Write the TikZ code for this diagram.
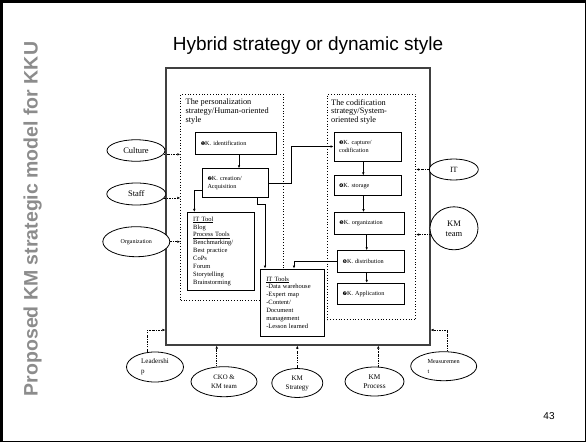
\documentclass[tikz,border=0pt]{standalone}
\usepackage{fontspec}
\setmainfont{Liberation Serif}
\newfontfamily\slidefont{Liberation Sans}
\newfontfamily\dingfont{DejaVu Sans}
\usetikzlibrary{positioning,calc,arrows.meta,shapes.geometric}
\definecolor{sidegray}{RGB}{140,140,140}
\newcommand{\kno}[1]{{\dingfont\fontsize{5}{6}\selectfont #1}}
\tikzstyle{modelbox} = [ draw=black!75, line width=1.1pt, inner sep=0pt ]
\tikzstyle{strategy} = [ draw, dotted, line width=0.8pt, inner sep=0pt ]
\tikzstyle{stratitle} = [ anchor=north west, inner sep=0pt, align=left, font=\fontsize{8.3}{8.7}\selectfont ]
\tikzstyle{kstep} = [ draw, line width=0.9pt, fill=white, align=left, inner xsep=5pt, inner ysep=0pt, font=\fontsize{6.2}{7.4}\selectfont ]
\tikzstyle{toolbox} = [ kstep, font=\fontsize{6.5}{7.9}\selectfont ]
\tikzstyle{factor} = [ draw, ellipse, line width=0.8pt, fill=white, inner sep=0pt, align=center ]
\tikzstyle{flow} = [ -{Latex[length=3pt,width=2.6pt]}, line width=0.8pt ]
\tikzstyle{influence} = [ -{Latex[length=3pt,width=2.6pt]}, line width=0.6pt, dash pattern=on 1.8pt off 1.2pt on 0.5pt off 1.2pt ]

\begin{document}
\begin{tikzpicture}[x=1pt,y=-1pt]
	\useasboundingbox (0,0) rectangle (586,442);
	\draw[line width=2.6pt] (1.3,442) -- (1.3,1.3) -- (586,1.3);
	\draw[line width=0.9pt] (585.5,0) -- (585.5,441.5) -- (0,441.5);

	\node[font=\slidefont\fontsize{19}{22}\selectfont, anchor=base] (title) at (308,50.5) {Hybrid strategy or dynamic style};
	\node[font=\slidefont\bfseries\fontsize{19.5}{22}\selectfont, text=sidegray, rotate=90, anchor=base] (side) at (37.5,219) {Proposed KM strategic model for KKU};
	\node[font=\slidefont\fontsize{10}{12}\selectfont, anchor=base] (page) at (549,419) {43};

	% model frame and the two strategies
	\node[modelbox, minimum width=264pt, minimum height=277pt] (model) at (298,206.5) {};
	\node[strategy, minimum width=102.6pt, minimum height=205.7pt] (personal) at (232,197.2) {};
	\node[strategy, minimum width=88.4pt, minimum height=225.2pt] (codif) at (371.5,206.9) {};
	\node[stratitle] (personaltitle) at (185.5,99) {The personalization\\strategy/Human-oriented\\style};
	\node[stratitle] (codiftitle) at (331,99) {The codification\\strategy/System-\\oriented style};

	% knowledge steps
	\node[kstep, text width=70.3pt, minimum height=22pt] (ident) at (235.9,143) {\kno{❶}K. identification};
	\node[kstep, text width=56.2pt, minimum height=29pt] (creat) at (235.6,183.2) {\kno{❷}K. creation/\\Acquisition};
	\node[kstep, text width=57pt, minimum height=29pt] (capture) at (367.5,146.5) {\kno{❸}K. capture/\\codification};
	\node[kstep, text width=57pt, minimum height=20pt] (storage) at (367.5,185.8) {\kno{❹}K. storage};
	\node[kstep, text width=59.7pt, minimum height=21.5pt] (organ) at (369.2,223.3) {\kno{❺}K. organization};
	\node[kstep, text width=56.5pt, minimum height=22pt] (distrib) at (370.8,261.7) {\kno{❻}K. distribution};
	\node[kstep, text width=56.5pt, minimum height=21.5pt] (applic) at (370.8,294) {\kno{❼}K. Application};

	% tools
	\node[toolbox, text width=55pt, inner xsep=6pt, minimum height=77.7pt] (ittool) at (220.7,251.2) {\underline{IT Tool}\\Blog\\\underline{Process Tools}\\Benchmarking/\\Best practice\\CoPs\\Forum\\Storytelling\\Brainstorming};
	\node[toolbox, text width=52.3pt, inner xsep=5.5pt, minimum height=67pt] (ittools) at (292.4,302.5) {\underline{IT Tools}\\-Data warehouse\\-Expert map\\-Content/\\Document\\management\\-Lesson learned};

	\draw[flow] ([xshift=3.1pt]ident.south) -- ([xshift=3.1pt]ident.south |- creat.north);
	\draw[flow] ([yshift=-7.5pt]creat.west) -| ([xshift=-26.4pt]ittool.north);
	\draw[flow] ([xshift=21.7pt]creat.south) -- ++(0,6.3) -| ([xshift=-27.4pt]ittools.north);
	\draw[flow] (creat.east) -- ++(22,0) |- (capture.west);
	\draw[flow] ([xshift=-4.2pt]capture.south) -- ([xshift=-4.2pt]capture.south |- storage.north);
	\draw[flow] ([xshift=-4pt]storage.south) -- ([xshift=-4pt]storage.south |- organ.north);
	\draw[flow] ([xshift=-2.5pt]organ.south) -- ([xshift=-2.5pt]organ.south |- distrib.north);
	\draw[flow] ([xshift=-4.1pt]distrib.south) -- ([xshift=-4.1pt]distrib.south |- applic.north);
	\draw[flow] (distrib.west) -| ([xshift=1.6pt]ittools.north);

	% outside factors
	\node[factor, minimum width=58pt, minimum height=21.5pt, font=\fontsize{8.5}{10}\selectfont] (culture) at (136,150.5) {Culture};
	\node[factor, minimum width=59pt, minimum height=22pt, font=\fontsize{8.5}{10}\selectfont] (staff) at (136.3,194) {Staff};
	\node[factor, minimum width=67pt, minimum height=30pt, font=\fontsize{6}{7}\selectfont] (orgz) at (136.3,241.7) {Organization};
	\node[factor, minimum width=49pt, minimum height=21pt, font=\fontsize{8}{10}\selectfont] (it) at (453.8,169.5) {IT};
	\node[factor, minimum width=48pt, minimum height=43pt, font=\fontsize{8.5}{10}\selectfont] (kmteam) at (454,228.3) {KM\\team};
	\node[factor, minimum width=57pt, minimum height=30pt, align=left, font=\fontsize{7}{10.5}\selectfont] (lead) at (155,367) {Leadershi\\p};
	\node[factor, minimum width=66pt, minimum height=30pt, font=\fontsize{6.8}{9.3}\selectfont] (cko) at (224,381.7) {CKO \&\\KM team};
	\node[factor, minimum width=51pt, minimum height=29pt, font=\fontsize{7}{9}\selectfont] (kmstrat) at (297.3,383) {KM\\Strategy};
	\node[factor, minimum width=59pt, minimum height=29pt, font=\fontsize{7.3}{9}\selectfont] (kmproc) at (374.5,381.5) {KM\\Process};
	\node[factor, minimum width=66pt, minimum height=29pt, align=left, font=\fontsize{6.2}{10}\selectfont] (measure) at (443.7,366.2) {Measuremen\\t};

	\draw[influence] (culture.-8) -- (culture.-8 -| personal.west);
	\draw[influence] (staff.-8) -- (staff.-8 -| personal.west);
	\draw[influence] (orgz.east) -- (orgz.east -| personal.west);
	\draw[influence] (it.west) -- (it.west -| codif.east);
	\draw[influence] (kmteam.195) -- (kmteam.195 -| codif.east);
	\draw[influence] (lead.117) |- (model.west |- 0,330);
	\draw[influence] ([xshift=-7.3pt]cko.north) -- ([xshift=-7.3pt]cko.north |- model.south);
	\draw[influence] (kmstrat.north) -- (kmstrat.north |- model.south);
	\draw[influence] ([xshift=3.8pt]kmproc.north) -- ([xshift=3.8pt]kmproc.north |- model.south);
	\draw[influence] ([xshift=4pt]measure.north) |- (model.east |- 0,330);
\end{tikzpicture}
\end{document}
